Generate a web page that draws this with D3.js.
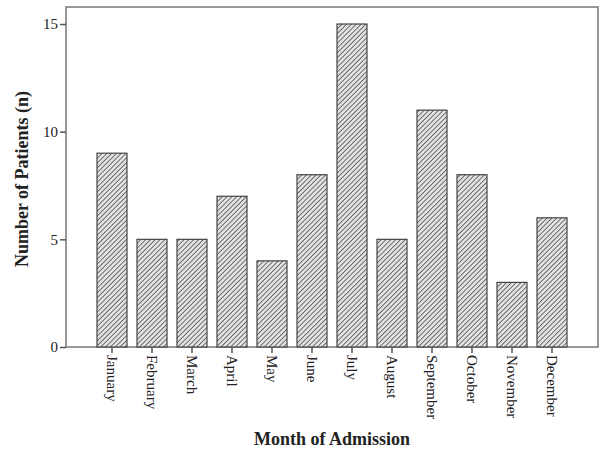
<!DOCTYPE html>
<html>
<head>
<meta charset="utf-8">
<script src="https://cdn.jsdelivr.net/npm/d3@7"></script>
<style>
  body { margin: 0; background: #fff; }
  text { font-family: "Liberation Serif", "Times New Roman", serif; fill: #222; }
</style>
</head>
<body>
<div id="chart"></div>
<script>
// Data
var months = ["January", "February", "March", "April", "May", "June",
              "July", "August", "September", "October", "November", "December"];
var patients = [9, 5, 5, 7, 4, 8, 15, 5, 11, 8, 3, 6];
var yTicks = [0, 5, 10, 15];

var totWidth = 600, totHeight = 453;
var frame = {left: 66, top: 7, right: 598, bottom: 347};

var svg = d3.select("#chart")
  .append("svg")
    .attr("width", totWidth)
    .attr("height", totHeight);

// hatch pattern
var defs = svg.append("defs");
var pat = defs.append("pattern")
    .attr("id", "hatch")
    .attr("patternUnits", "userSpaceOnUse")
    .attr("width", 3.4)
    .attr("height", 3.4)
    .attr("patternTransform", "rotate(45)");
pat.append("rect")
    .attr("width", 3.4).attr("height", 3.4)
    .attr("fill", "#e2e2e2");
pat.append("line")
    .attr("x1", 0).attr("y1", 0)
    .attr("x2", 0).attr("y2", 3.4)
    .attr("stroke", "#4a4a4a")
    .attr("stroke-width", 1.5);

// Scales
var x = d3.scaleBand()
  .domain(months)
  .range([92, 572])
  .paddingInner(0.25)
  .paddingOuter(0.125);

var y = d3.scaleLinear()
  .domain([0, 15])
  .range([frame.bottom, 24]);

// Frame
svg.append("rect")
  .attr("x", frame.left)
  .attr("y", frame.top)
  .attr("width", frame.right - frame.left)
  .attr("height", frame.bottom - frame.top)
  .attr("fill", "none")
  .attr("stroke", "#777")
  .attr("stroke-width", 1.5);

// Bars
svg.selectAll(".bar")
  .data(patients)
  .enter()
  .append("rect")
    .attr("class", "bar")
    .attr("x", function(d, i) { return x(months[i]); })
    .attr("y", function(d) { return y(d); })
    .attr("width", x.bandwidth())
    .attr("height", function(d) { return y(0) - y(d); })
    .attr("fill", "url(#hatch)")
    .attr("stroke", "#444")
    .attr("stroke-width", 1.2);

// Y axis
var yAxis = svg.append("g")
  .attr("transform", "translate(" + frame.left + ",0)")
  .call(d3.axisLeft(y).tickValues(yTicks).tickSize(6).tickPadding(2));
yAxis.select(".domain").remove();
yAxis.selectAll(".tick line").attr("stroke", "#555").attr("stroke-width", 1.5);
yAxis.selectAll(".tick text")
  .style("font-family", "Liberation Serif, serif")
  .style("font-size", "15px")
  .attr("fill", "#444");

// X axis
var xAxis = svg.append("g")
  .attr("transform", "translate(0," + frame.bottom + ")")
  .call(d3.axisBottom(x).tickSize(6).tickPadding(2));
xAxis.select(".domain").remove();
xAxis.selectAll(".tick line").attr("stroke", "#555").attr("stroke-width", 1.5);
xAxis.selectAll(".tick text")
  .attr("transform", "rotate(90)")
  .attr("x", 8)
  .attr("y", 0)
  .attr("dy", "0.35em")
  .attr("text-anchor", "start")
  .style("font-family", "Liberation Serif, serif")
  .style("font-size", "15px")
  .attr("fill", "#333");

// Axis titles
svg.append("text")
  .attr("x", 332)
  .attr("y", 445)
  .attr("text-anchor", "middle")
  .style("font-size", "18px")
  .style("font-weight", "bold")
  .text("Month of Admission");

svg.append("text")
  .attr("transform", "translate(28,179) rotate(-90)")
  .attr("text-anchor", "middle")
  .style("font-size", "18px")
  .style("font-weight", "bold")
  .text("Number of Patients (n)");
</script>
</body>
</html>
